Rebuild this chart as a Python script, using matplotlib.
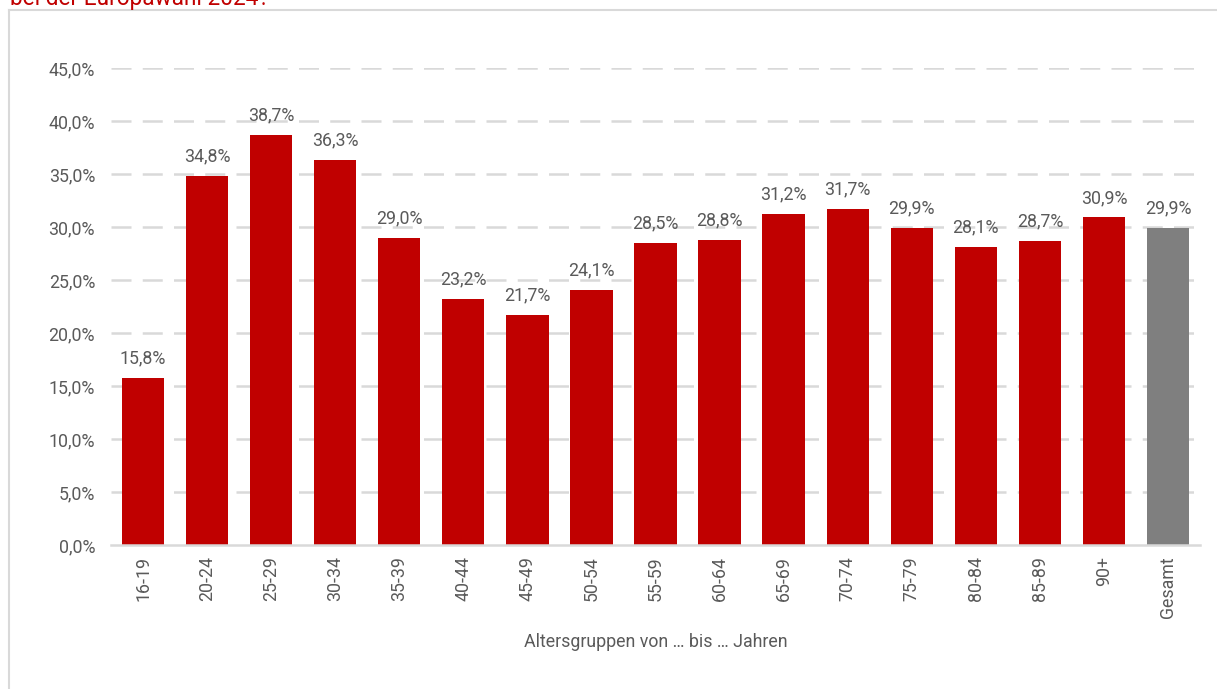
import matplotlib
matplotlib.use("Agg")
import matplotlib.pyplot as plt
from matplotlib.lines import Line2D

categories = ["16-19", "20-24", "25-29", "30-34", "35-39", "40-44", "45-49", "50-54",
              "55-59", "60-64", "65-69", "70-74", "75-79", "80-84", "85-89", "90+", "Gesamt"]
values = [15.8, 34.8, 38.7, 36.3, 29.0, 23.2, 21.7, 24.1,
          28.5, 28.8, 31.2, 31.7, 29.9, 28.1, 28.7, 30.9, 29.9]
yticks = [0, 5, 10, 15, 20, 25, 30, 35, 40, 45]
xlabel = "Altersgruppen von … bis … Jahren"
title_fragment = "bei der Europawahl 2024?"

plt.rcParams['font.family'] = ['Roboto', 'DejaVu Sans']
TXT = "#5a5a5a"
GRID = "#d9d9d9"
RED = "#c00000"
GREY = "#7f7f7f"

fig = plt.figure(figsize=(12.17, 6.89), dpi=100)
W, H = 1217, 689

# outer frame (top and left edges visible)
fig.add_artist(Line2D([9 / W, 9 / W], [0, 1 - 10 / H], transform=fig.transFigure, color=GRID, lw=1.5))
fig.add_artist(Line2D([9 / W, 1], [1 - 10 / H, 1 - 10 / H], transform=fig.transFigure, color=GRID, lw=1.5))

# clipped title fragment at the very top
fig.text(10 / W, 1 - 4.5 / H, title_fragment, color=RED, fontsize=16.3, ha='left', va='baseline')

ax = fig.add_axes([111 / W, 144 / H, (1200 - 111) / W, (545 - 68) / H])
x = list(range(len(categories)))
colors = [RED] * (len(categories) - 1) + [GREY]
ax.bar(x, values, width=0.66, color=colors, zorder=3)
ax.set_xlim(-0.5, len(categories) - 0.5)
ax.set_ylim(0, 45)

for xi, v in zip(x, values):
    ax.annotate(f"{v:.1f}%".replace(".", ","), (xi, v), xytext=(0, 10.5), textcoords='offset points',
                ha='center', va='baseline', fontsize=12.8, color=TXT, zorder=4)

ax.set_yticks(yticks)
ax.set_yticklabels([f"{t:.1f}%".replace(".", ",") for t in yticks])
ax.set_xticks(x)
ax.set_xticklabels(categories, rotation=90)
ax.tick_params(axis='both', length=0, colors=TXT, labelsize=12.8)
ax.tick_params(axis='y', pad=11.5)
ax.tick_params(axis='x', pad=8)

for t in yticks[1:]:
    ax.axhline(t, color=GRID, lw=1.8, ls=(0, (8, 4.5)), zorder=1)
for s in ['top', 'right', 'left']:
    ax.spines[s].set_visible(False)
ax.spines['bottom'].set_color(GRID)
ax.spines['bottom'].set_linewidth(1.8)
ax.spines['bottom'].set_zorder(5)

ax.set_xlabel(xlabel, color=TXT, fontsize=12.8, labelpad=11)

fig.savefig("out.png", dpi=100)
